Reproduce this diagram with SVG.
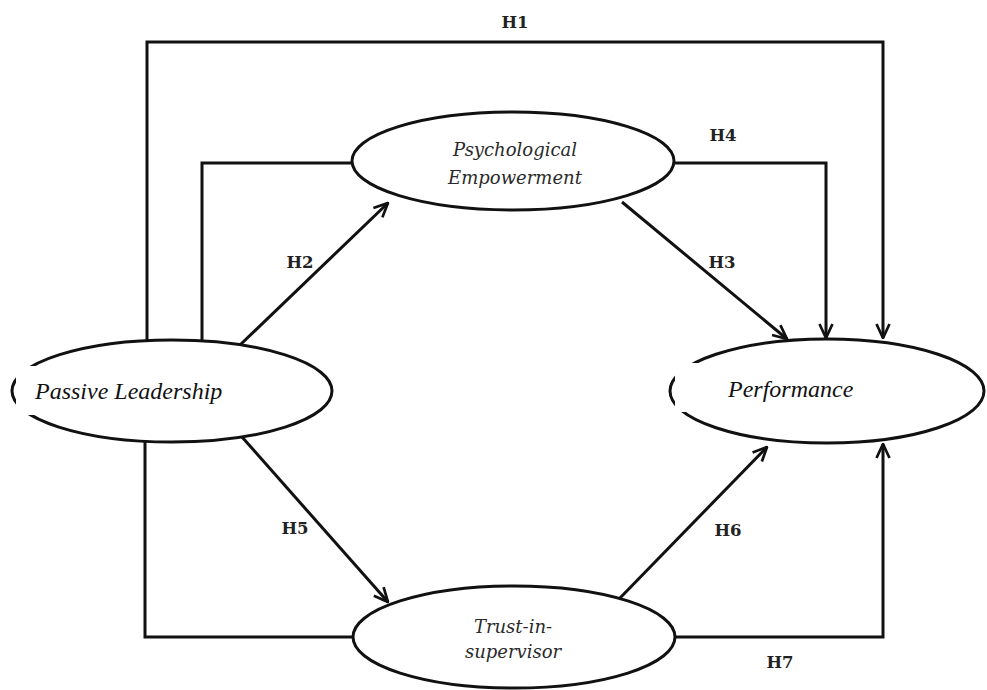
<svg xmlns="http://www.w3.org/2000/svg" width="987" height="690" viewBox="0 0 987 690">
<style>
.c{fill:none;stroke:#111;stroke-width:3;stroke-linejoin:miter}
.n{fill:#fff;stroke:#111;stroke-width:3}
.lbl{font-family:"DejaVu Serif",serif;font-weight:bold;font-size:16.5px;fill:#222;text-anchor:middle}
.it{font-family:"DejaVu Serif",serif;font-style:italic;font-size:18px;fill:#2a2a2a;text-anchor:middle}
.tn{font-style:italic;font-size:24px;fill:#111}
</style>
<defs>
<marker id="ah" viewBox="0 0 16 16" refX="15" refY="8" markerWidth="16" markerHeight="16" markerUnits="userSpaceOnUse" orient="auto">
<path d="M1,1.5 L15,8 L1,14.5" fill="none" stroke="#111" stroke-width="2.7"/>
</marker>
</defs>
<rect width="987" height="690" fill="#fff"/>
<g id="connectors">
<path class="c" d="M147,341 V42 H883 V338" marker-end="url(#ah)"/>
<path class="c" d="M675,163 H826 V338" marker-end="url(#ah)"/>
<path class="c" d="M622,202 L787,339" marker-end="url(#ah)"/>
<path class="c" d="M240,345 L388,203" marker-end="url(#ah)"/>
<path class="c" d="M352,163 H202 V342"/>
<path class="c" d="M242,437 L388,602" marker-end="url(#ah)"/>
<path class="c" d="M353,637 H145 V440"/>
<path class="c" d="M620,598 L767,447" marker-end="url(#ah)"/>
<path class="c" d="M675,637 H883 V444" marker-end="url(#ah)"/>
<text class="lbl" x="515" y="28">H1</text>
<text class="lbl" x="300" y="268">H2</text>
<text class="lbl" x="722" y="268">H3</text>
<text class="lbl" x="723" y="141">H4</text>
<text class="lbl" x="295" y="534">H5</text>
<text class="lbl" x="728" y="536">H6</text>
<text class="lbl" x="780" y="668">H7</text>
</g>
<g id="passive-leadership">
<ellipse class="n" cx="172" cy="391" rx="160" ry="51"/>
<rect x="16" y="366" width="234" height="49" fill="#fff"/>
<text class="tn" font-family="'Liberation Serif', 'Times New Roman', serif" x="35" y="399">Passive Leadership</text>
</g>
<g id="performance">
<ellipse class="n" cx="827" cy="391" rx="157" ry="52"/>
<rect x="675" y="363" width="200" height="49" fill="#fff"/>
<text class="tn" font-family="'Liberation Serif', 'Times New Roman', serif" x="728" y="397">Performance</text>
</g>
<g id="psychological-empowerment">
<ellipse class="n" cx="513" cy="161" rx="161" ry="49"/>
<text class="it" x="515" y="156">Psychological</text>
<text class="it" x="515" y="184">Empowerment</text>
</g>
<g id="trust-in-supervisor">
<ellipse class="n" cx="514" cy="637" rx="161" ry="51"/>
<text class="it" x="513" y="633">Trust-in-</text>
<text class="it" x="513" y="658">supervisor</text>
</g>
</svg>
